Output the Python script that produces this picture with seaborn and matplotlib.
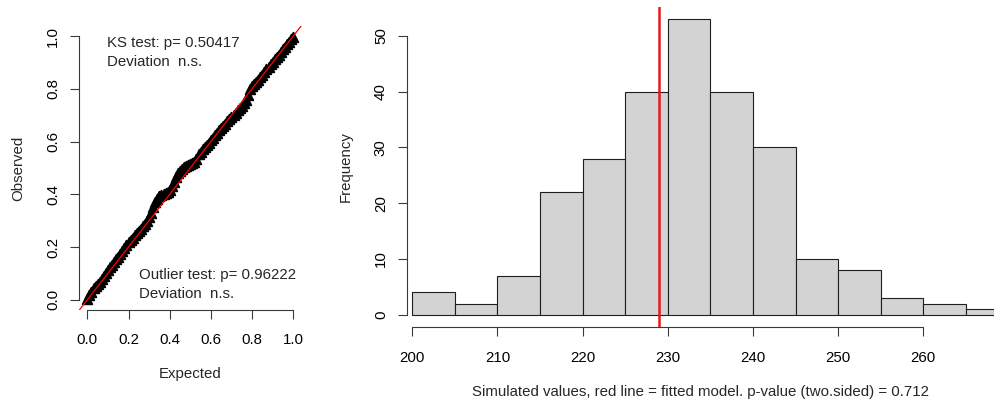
import matplotlib
matplotlib.use("Agg")
import matplotlib.pyplot as plt
import numpy as np
import pandas as pd
import seaborn as sns

# --- QQ plot: expected uniform quantiles vs. observed scaled residuals ---
expected = [0.00, 0.01, 0.02, 0.03, 0.04, 0.05, 0.06, 0.07, 0.08, 0.09,
            0.10, 0.11, 0.12, 0.13, 0.14, 0.15, 0.16, 0.17, 0.18, 0.19,
            0.20, 0.21, 0.22, 0.23, 0.24, 0.25, 0.26, 0.27, 0.28, 0.29,
            0.30, 0.31, 0.32, 0.33, 0.34, 0.35, 0.36, 0.37, 0.38, 0.39,
            0.40, 0.41, 0.42, 0.43, 0.44, 0.45, 0.46, 0.47, 0.48, 0.49,
            0.50, 0.51, 0.52, 0.53, 0.54, 0.55, 0.56, 0.57, 0.58, 0.59,
            0.60, 0.61, 0.62, 0.63, 0.64, 0.65, 0.66, 0.67, 0.68, 0.69,
            0.70, 0.71, 0.72, 0.73, 0.74, 0.75, 0.76, 0.77, 0.78, 0.79,
            0.80, 0.81, 0.82, 0.83, 0.84, 0.85, 0.86, 0.87, 0.88, 0.89,
            0.90, 0.91, 0.92, 0.93, 0.94, 0.95, 0.96, 0.97, 0.98, 0.99,
            1.00]
observed = [0.004, 0.018, 0.030, 0.045, 0.052, 0.060, 0.068, 0.078, 0.090, 0.102,
            0.113, 0.124, 0.133, 0.144, 0.155, 0.163, 0.172, 0.184, 0.196, 0.208,
            0.218, 0.226, 0.236, 0.245, 0.253, 0.262, 0.270, 0.279, 0.289, 0.300,
            0.312, 0.330, 0.352, 0.370, 0.382, 0.392, 0.398, 0.402, 0.405, 0.410,
            0.418, 0.430, 0.446, 0.466, 0.480, 0.490, 0.496, 0.502, 0.506, 0.510,
            0.514, 0.518, 0.523, 0.535, 0.552, 0.562, 0.570, 0.578, 0.587, 0.596,
            0.605, 0.614, 0.623, 0.632, 0.642, 0.651, 0.660, 0.668, 0.677, 0.686,
            0.694, 0.702, 0.710, 0.719, 0.728, 0.736, 0.746, 0.758, 0.775, 0.798,
            0.810, 0.818, 0.826, 0.835, 0.845, 0.854, 0.865, 0.874, 0.884, 0.894,
            0.903, 0.912, 0.921, 0.930, 0.940, 0.950, 0.959, 0.968, 0.978, 0.989,
            0.998]
ks_p = "0.50417"
outlier_p = "0.96222"

# --- Dispersion test: histogram of simulated statistics ---
bin_edges = [200, 205, 210, 215, 220, 225, 230, 235, 240, 245, 250, 255, 260, 265, 270]
bin_counts = [4, 2, 7, 22, 28, 40, 53, 40, 30, 10, 8, 3, 2, 1]
fitted_value = 229.0
dispersion_p = "0.712"
hist_xticks = [200, 210, 220, 230, 240, 250, 260]
hist_yticks = [0, 10, 20, 30, 40, 50]
qq_ticks = [0.0, 0.2, 0.4, 0.6, 0.8, 1.0]

sns.set_style("ticks")
plt.rcParams["font.family"] = ["Liberation Sans", "DejaVu Sans"]
FS = 10.8
AX_COL = "#3a3a3a"

W, H = 994, 404
fig = plt.figure(figsize=(W / 100, H / 100), dpi=100)


def px_axes(x0, x1, y_top, y_bot):
    return fig.add_axes([x0 / W, (H - y_bot) / H, (x1 - x0) / W, (y_bot - y_top) / H])


def r_style(ax, xb, yb, xpad):
    sns.despine(ax=ax)
    for side in ("left", "bottom"):
        ax.spines[side].set_color(AX_COL)
        ax.spines[side].set_linewidth(0.8)
    ax.spines["bottom"].set_bounds(*xb)
    ax.spines["left"].set_bounds(*yb)
    ax.tick_params(direction="out", length=6.5, width=0.8, color=AX_COL,
                   labelsize=FS, labelcolor="black")
    ax.tick_params(axis="x", pad=xpad)
    ax.tick_params(axis="y", pad=7, labelrotation=90)
    for lab in ax.get_yticklabels():
        lab.set_va("center")


# ---------------- left panel: QQ plot ----------------
ax1 = px_axes(79.1, 301.5, 25.5, 310.3)
qq = pd.DataFrame({"Expected": expected, "Observed": observed})
sns.scatterplot(data=qq, x="Expected", y="Observed", ax=ax1, marker="^",
                s=48, color="black", edgecolor="black", linewidth=1.3)
ax1.axline((0, 0), slope=1, color="red", lw=0.9)
ax1.set_xlim(-0.04, 1.04)
ax1.set_ylim(-0.04, 1.04)
ax1.set_xticks(qq_ticks)
ax1.set_yticks(qq_ticks)
ax1.set_xticklabels([f"{t:.1f}" for t in qq_ticks])
ax1.set_yticklabels([f"{t:.1f}" for t in qq_ticks])
r_style(ax1, (0, 1), (0, 1), xpad=10)
ax1.set_xlabel("Expected", fontsize=FS)
ax1.set_ylabel("Observed", fontsize=FS)
ax1.xaxis.set_label_coords(0.5, -0.2237)
ax1.xaxis.label.set_va("center")
ax1.yaxis.set_label_coords(-0.2747, 0.5)
ax1.yaxis.label.set_va("center")

ax1.text(0.0956, 0.972, f"KS test: p= {ks_p}", fontsize=FS, va="center", ha="left")
ax1.text(0.0956, 0.900, "Deviation  n.s.", fontsize=FS, va="center", ha="left")
ax1.text(0.251, 0.092, f"Outlier test: p= {outlier_p}", fontsize=FS, va="center", ha="left")
ax1.text(0.251, 0.020, "Deviation  n.s.", fontsize=FS, va="center", ha="left")

# ---------------- right panel: histogram ----------------
ax2 = px_axes(406.7, 994, 7.3, 326.5)
sns.histplot(x=bin_edges[:-1], weights=bin_counts, bins=bin_edges, ax=ax2,
             color="#D3D3D3", edgecolor="#1e1e1e", linewidth=0.8, alpha=1)
ax2.axvline(fitted_value, color="#E8191B", lw=1.8)
ax2.set_xlim(199.34, 268.3)
ax2.set_ylim(-2.12, 55.12)
ax2.set_xticks(hist_xticks)
ax2.set_yticks(hist_yticks)
r_style(ax2, (200, 260), (0, 50), xpad=11)
ax2.set_xlabel("Simulated values, red line = fitted model. p-value (two.sided) = "
               + dispersion_p, fontsize=FS)
ax2.set_ylabel("Frequency", fontsize=FS)
ax2.xaxis.set_label_coords(0.5, -0.2052)
ax2.xaxis.label.set_va("center")
ax2.yaxis.set_label_coords(-0.1034, 0.5)
ax2.yaxis.label.set_va("center")

fig.savefig("out.png", dpi=100)
